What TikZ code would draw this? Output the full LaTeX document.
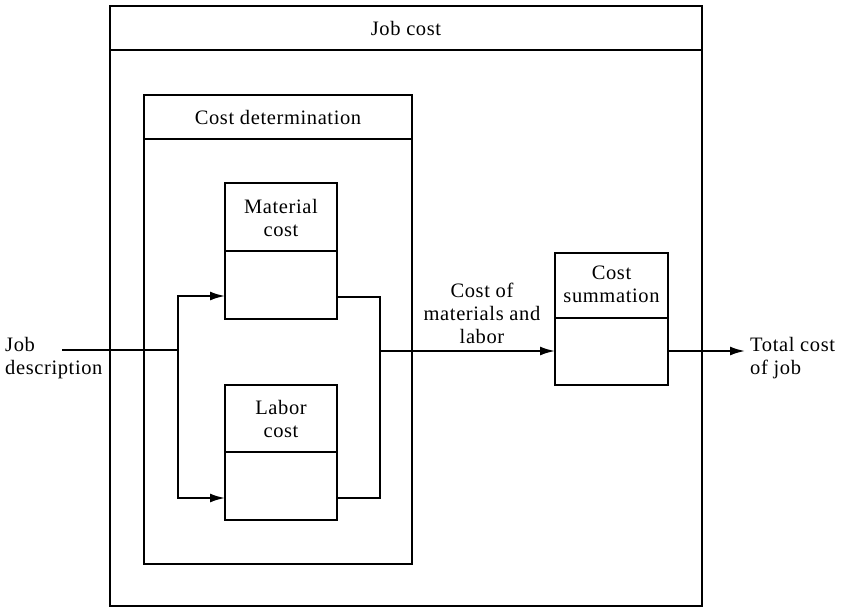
\documentclass[tikz,border=0pt]{standalone}
\usepackage{fontspec}
\setmainfont{Liberation Serif}[LetterSpace=3]
\usetikzlibrary{arrows.meta,fit}
\begin{document}
\begin{tikzpicture}[x=1pt,y=-1pt,
  every node/.style={font=\fontsize{20.5}{23}\selectfont, inner sep=0pt},
  box/.style={draw, line width=2.2pt, inner sep=0pt, outer sep=0pt},
  rule/.style={line width=2pt},
  wire/.style={line width=2pt},
  arr/.style={line width=2pt, -{Latex[length=15pt,width=9pt]}},
  label/.style={align=center},
  side/.style={align=left}]
\useasboundingbox (0,0) rectangle (847,608);

% outer activity: Job cost
\node[box, fit={(110,6) (702,606)}] (outer) {};
\draw[rule] (outer.west |- 0,50) -- (outer.east |- 0,50);
\node[label] (outertitle) at (406,28) {Job cost};

% Cost determination
\node[box, fit={(144,95) (412,564)}] (det) {};
\draw[rule] (det.west |- 0,139) -- (det.east |- 0,139);
\node[label] (dettitle) at (278,117) {Cost determination};

% Material cost
\node[box, fit={(225,183) (337,319)}] (mat) {};
\draw[rule] (mat.west |- 0,251) -- (mat.east |- 0,251);
\node[label] (mattitle) at (281,218) {Material\\cost};

% Labor cost
\node[box, fit={(225,385) (337,520)}] (lab) {};
\draw[rule] (lab.west |- 0,452) -- (lab.east |- 0,452);
\node[label] (labtitle) at (281,419) {Labor\\cost};

% Cost summation
\node[box, fit={(555,253) (668,385)}] (sum) {};
\draw[rule] (sum.west |- 0,318) -- (sum.east |- 0,318);
\node[label] (sumtitle) at (611.5,284) {Cost\\summation};

% input and output texts
\node[side, anchor=west] (jobdesc) at (5,358) {Job\\description};
\node[label] (midlabel) at (482,313) {Cost of\\materials and\\labor};
\node[side, anchor=west] (total) at (750,358) {Total cost\\of job};

% connectors
\coordinate (jobin) at (62,350);
\coordinate (split) at (178,350);
\coordinate (join) at (380,351);
\coordinate (totalin) at (745,351);

\draw[wire] (jobin) -- (split);
\draw[arr] (split) |- (mat.west |- 0,296);
\draw[arr] (split) |- (lab.west |- 0,498);
\draw[wire] (mat.east |- 0,297) -| (join);
\draw[wire] (lab.east |- 0,498) -| (join);
\draw[arr] (join) -- (sum.west |- join);
\draw[arr] (sum.east |- 0,351) -- (totalin);
\end{tikzpicture}
\end{document}
